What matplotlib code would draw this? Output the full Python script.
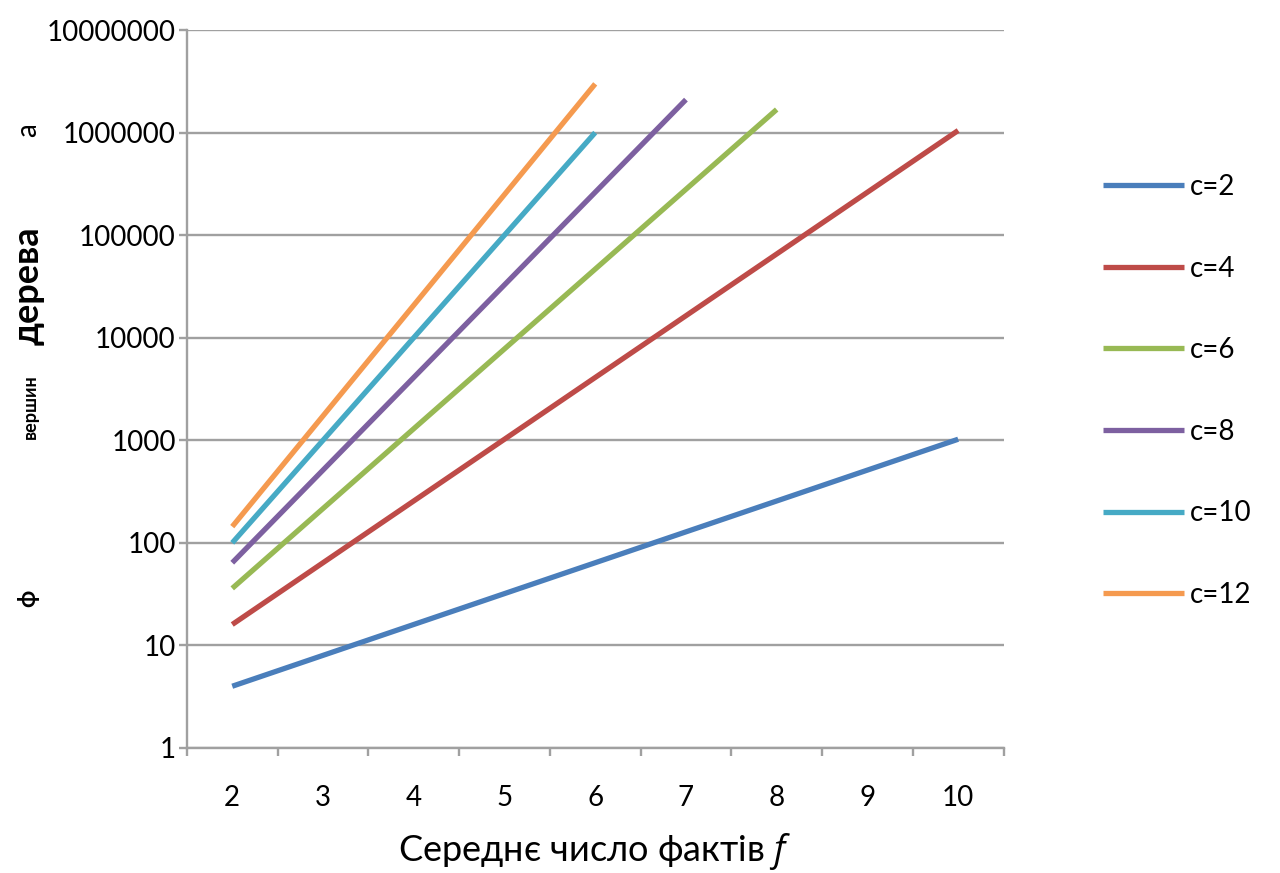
import matplotlib.pyplot as plt
from matplotlib.ticker import FixedLocator, NullFormatter, FuncFormatter

plt.rcParams['font.family'] = ['Lato', 'Open Sans', 'DejaVu Sans']
plt.rcParams['mathtext.fontset'] = 'custom'
plt.rcParams['mathtext.it'] = 'Open Sans:italic'

# average number of facts f
facts = [2, 3, 4, 5, 6, 7, 8, 9, 10]

# number of tree vertices for each c
c2 = [4, 8, 16, 32, 64, 128, 256, 512, 1024]
c4 = [16, 64, 256, 1024, 4096, 16384, 65536, 262144, 1048576]
c6 = [36, 216, 1296, 7776, 46656, 279936, 1679616]
c8 = [64, 512, 4096, 32768, 262144, 2097152]
c10 = [100, 1000, 10000, 100000, 1000000]
c12 = [144, 1728, 20736, 248832, 2985984]

series = [('c=2', c2), ('c=4', c4), ('c=6', c6),
          ('c=8', c8), ('c=10', c10), ('c=12', c12)]
colors = ['#4a7ebb', '#be4b48', '#98b954', '#7d60a0', '#46aac5', '#f59a4f']

grid_col = '#a0a0a0'

fig = plt.figure(figsize=(12.8, 8.73), dpi=100)
ax = fig.add_axes([0.146, 0.1432, 0.638, 0.8224])

for (name, vals), col in zip(series, colors):
    ax.plot(facts[:len(vals)], vals, color=col, lw=3.8, label=name,
            solid_capstyle='butt')

ax.set_yscale('log')
ax.set_ylim(1, 1e7)
ax.set_xlim(1.5, 10.5)

ax.yaxis.set_major_locator(FixedLocator([10 ** i for i in range(8)]))
ax.yaxis.set_minor_locator(FixedLocator([]))
ax.yaxis.set_major_formatter(FuncFormatter(lambda v, p: '%d' % round(v)))
ax.grid(axis='y', color=grid_col, lw=1.7)
ax.set_axisbelow(True)

ax.set_xticks(facts)
ax.set_xticklabels([str(f) for f in facts])
ax.xaxis.set_minor_locator(FixedLocator([f + 0.5 for f in [1] + facts]))
ax.xaxis.set_minor_formatter(NullFormatter())

ax.tick_params(axis='x', which='major', length=0, pad=27, labelsize=20)
ax.tick_params(axis='x', which='minor', length=6, width=1.7, color=grid_col)
ax.tick_params(axis='y', which='major', length=6, width=1.7, color=grid_col,
               pad=2, labelsize=20)

for s in ['top', 'right']:
    ax.spines[s].set_visible(False)
for s in ['left', 'bottom']:
    ax.spines[s].set_color(grid_col)
    ax.spines[s].set_linewidth(1.7)

ax.set_xlabel('Середнє число фактів $f$', fontsize=26, labelpad=14)

# broken y-axis title as in the original picture
fig.text(0.022, 1 - 130 / 873, 'а', rotation=90, fontsize=20,
         ha='center', va='center')
fig.text(0.022, 1 - 286 / 873, 'дерева', rotation=90, fontsize=26,
         fontweight='bold', ha='center', va='center')
fig.text(0.024, 1 - 407 / 873, 'вершин', rotation=90, fontsize=13,
         fontweight='bold', ha='center', va='center')
fig.text(0.022, 1 - 598 / 873, 'ф', rotation=90, fontsize=17,
         fontweight='bold', ha='center', va='center')

fig.legend(loc='center left', bbox_to_anchor=(0.862, 1 - 391 / 873),
           frameon=False, fontsize=20, handlelength=2.9, handletextpad=0.2,
           labelspacing=2.0, borderpad=0, borderaxespad=0)

fig.savefig('out.png', dpi=100)
